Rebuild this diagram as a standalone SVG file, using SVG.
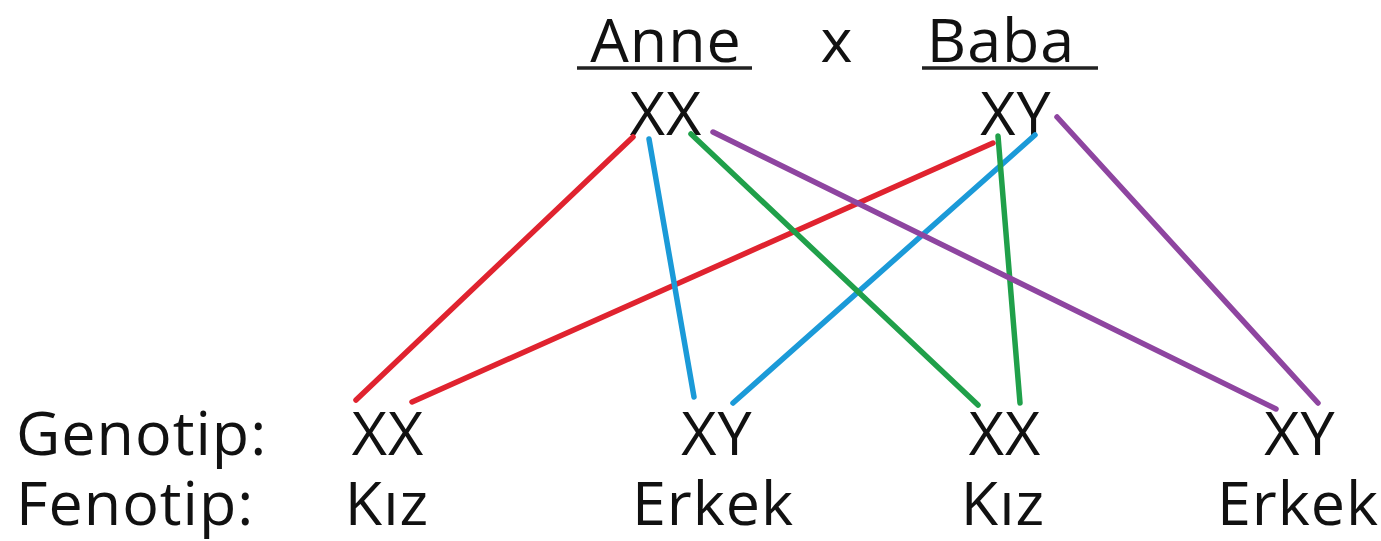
<svg xmlns="http://www.w3.org/2000/svg" width="1381" height="541" viewBox="0 0 1381 541">
<style>
text{font-family:"Open Sans","Noto Sans",sans-serif;fill:#111;font-size:61px;letter-spacing:1px}
.c{text-anchor:middle}
.u{stroke:#222;stroke-width:3.5}
.l{stroke-width:5.5;stroke-linecap:round;fill:none}
.r{stroke:#e0232f}.b{stroke:#1b9ad8}.g{stroke:#20a04a}.p{stroke:#8e45a0}
</style>
<rect width="1381" height="541" fill="#fff"/>
<g id="anne"><text class="c" x="666" y="62">Anne</text><line class="u" x1="577" y1="68" x2="752" y2="68"/><text class="c" x="666" y="135">XX</text></g>
<g id="cross"><text class="c" x="837" y="62">x</text></g>
<g id="baba"><text class="c" x="1001" y="62">Baba</text><line class="u" x1="922" y1="68" x2="1098" y2="68"/><text class="c" x="1016" y="135">XY</text></g>
<g id="labels"><text x="16" y="455">Genotip:</text><text x="16" y="525">Fenotip:</text></g>
<g id="c1"><text class="c" x="388" y="455">XX</text><text class="c" x="387" y="525">Kız</text></g>
<g id="c2"><text class="c" x="717" y="455">XY</text><text class="c" x="713" y="525">Erkek</text></g>
<g id="c3"><text class="c" x="1005" y="455">XX</text><text class="c" x="1003" y="525">Kız</text></g>
<g id="c4"><text class="c" x="1300" y="455">XY</text><text class="c" x="1298" y="525">Erkek</text></g>
<g id="connectors">
<line class="l r" x1="633" y1="137" x2="356" y2="400"/>
<line class="l r" x1="993" y1="143" x2="412" y2="402"/>
<line class="l b" x1="649" y1="139" x2="694" y2="397"/>
<line class="l b" x1="1035" y1="135" x2="733" y2="403"/>
<line class="l g" x1="691" y1="134" x2="978" y2="405"/>
<line class="l g" x1="998" y1="136" x2="1020" y2="403"/>
<line class="l p" x1="713" y1="132" x2="1276" y2="409"/>
<line class="l p" x1="1057" y1="117" x2="1318" y2="403"/>
</g>
</svg>
